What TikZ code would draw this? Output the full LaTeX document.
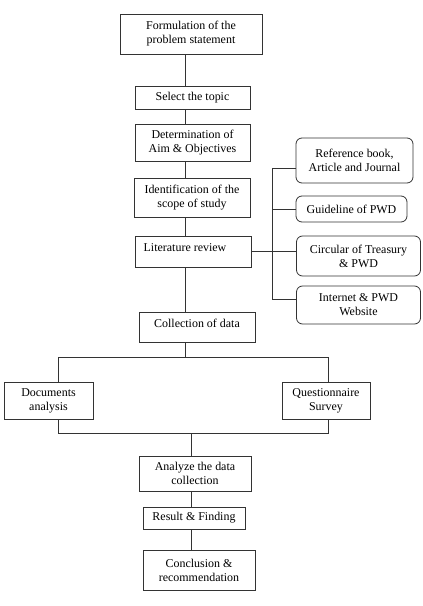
\documentclass[tikz,border=0pt]{standalone}
\usepackage{fontspec}
\setmainfont{Liberation Serif}
\begin{document}
\begin{tikzpicture}[x=1bp,y=-1bp,
  box/.style={draw=black!80,line width=0.8bp,inner sep=0pt,align=center,font=\fontsize{12}{14}\selectfont},
  rbox/.style={box,rounded corners=6bp},
  txt/.style={inner sep=0pt,align=center,font=\fontsize{12}{14}\selectfont},
  conn/.style={draw=black!80,line width=0.8bp}]
\useasboundingbox (0,0) rectangle (422,606);
\node[box,minimum width=142bp,minimum height=40bp] (b1) at (191,34) {Formulation of the\\problem statement};
\node[box,minimum width=115bp,minimum height=23bp] (b2) at (192.5,97.5) {Select the topic};
\node[box,minimum width=115bp,minimum height=37bp] (b3) at (192.5,142.5) {Determination of\\Aim \& Objectives};
\node[box,minimum width=116bp,minimum height=39bp] (b4) at (192,197.5) {Identification of the\\scope of study};
\node[box,minimum width=116bp,minimum height=31bp] (b5) at (193,251.5) {};
\node[txt] (t5) at (185,248) {Literature review};
\node[rbox,minimum width=117bp,minimum height=45bp] (r1) at (354.5,160.5) {Reference book,\\Article and Journal};
\node[rbox,minimum width=111bp,minimum height=26bp] (r2) at (351.5,209) {Guideline of PWD};
\node[rbox,minimum width=124bp,minimum height=40bp] (r3) at (358.5,256) {Circular of Treasury\\\& PWD};
\node[rbox,minimum width=124bp,minimum height=38bp] (r4) at (358.5,305) {Internet \& PWD\\Website};
\node[box,minimum width=116bp,minimum height=30bp] (b6) at (197,327) {};
\node[txt] (t6) at (197,323) {Collection of data};
\node[box,minimum width=89bp,minimum height=37bp] (b7) at (48.5,400.5) {Documents\\analysis};
\node[box,minimum width=88bp,minimum height=37bp] (b8) at (326,400.5) {Questionnaire\\Survey};
\node[box,minimum width=112bp,minimum height=35bp] (b9) at (195,473.5) {Analyze the data\\collection};
\node[box,minimum width=102bp,minimum height=22bp] (b10) at (194,518) {Result \& Finding};
\node[box,minimum width=112bp,minimum height=40bp] (b11) at (199,570) {Conclusion \&\\recommendation};
% trunk coordinates
\coordinate (tx) at (185,0);
\coordinate (lx) at (191,0);
\coordinate (rx) at (272,0);
\coordinate (split) at (185,357);
\coordinate (join) at (191,433);
\coordinate (sl) at (58,357);
\coordinate (sr) at (328,357);
\coordinate (jl) at (58,433);
\coordinate (jr) at (328,433);
\coordinate (rtop) at (272,168);
\coordinate (rbot) at (272,299);
% main trunk
\draw[conn] (b1.south -| tx) -- (b2.north -| tx);
\draw[conn] (b2.south -| tx) -- (b3.north -| tx);
\draw[conn] (b3.south -| tx) -- (b4.north -| tx);
\draw[conn] (b4.south -| tx) -- (b5.north -| tx);
\draw[conn] (b5.south -| tx) -- (b6.north -| tx);
\draw[conn] (b6.south -| tx) -- (split);
\draw[conn] (sl) -- (sr);
\draw[conn] (sl) -- (b7.north -| sl);
\draw[conn] (sr) -- (b8.north -| sr);
\draw[conn] (b7.south -| jl) -- (jl) -- (jr) -- (b8.south -| jr);
\draw[conn] (join) -- (b9.north -| lx);
\draw[conn] (b9.south -| lx) -- (b10.north -| lx);
\draw[conn] (b10.south -| lx) -- (b11.north -| lx);
% right side
\draw[conn] (rtop) -- (rbot);
\draw[conn] (rtop) -- (rtop -| r1.west);
\draw[conn] (r2.west -| rx) -- (r2.west);
\draw[conn] (b5.east) -- (b5.east -| r3.west);
\draw[conn] (rbot) -- (rbot -| r4.west);
\end{tikzpicture}
\end{document}
